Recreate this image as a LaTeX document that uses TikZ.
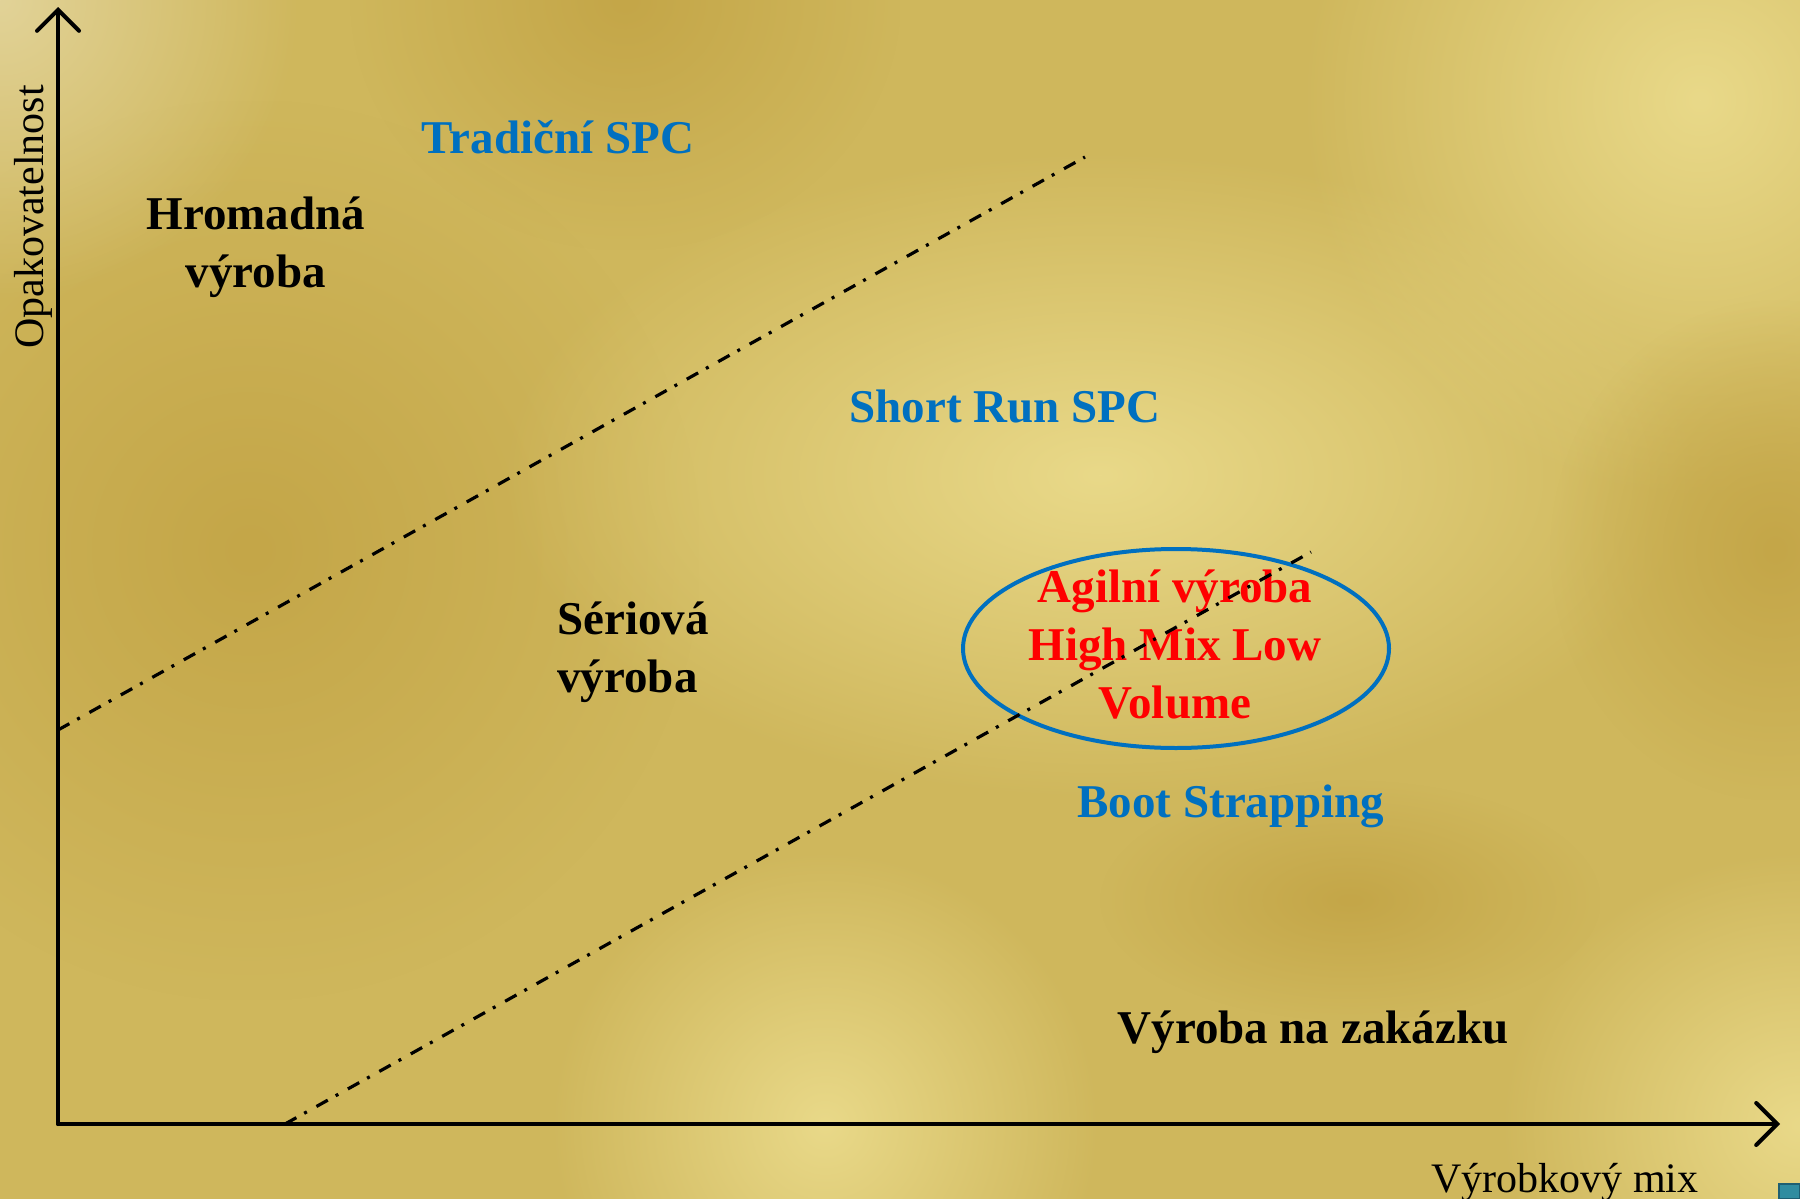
\documentclass[tikz,border=0pt]{standalone}
\usepackage{fontspec}
\setmainfont{Liberation Serif}
\usetikzlibrary{arrows.meta,fadings,shapes.geometric}
\tikzfading[name=blobfade, inner color=transparent!0, outer color=transparent!100]
\definecolor{goldbase}{RGB}{207,183,92}
\definecolor{goldlight}{RGB}{233,217,137}
\definecolor{golddark}{RGB}{196,166,72}
\definecolor{goldcorner}{RGB}{226,211,152}
\definecolor{spcblue}{RGB}{0,112,192}
\definecolor{agred}{RGB}{255,0,0}
\definecolor{iconteal}{RGB}{48,140,160}
\definecolor{icondark}{RGB}{30,95,115}
\begin{document}
\begin{tikzpicture}[x=0.5pt,y=-0.5pt,
  axisline/.style={line width=2pt, line cap=round, -{Straight Barb[length=10.5pt,width=21pt,line cap=round]}},
  dashdotline/.style={line width=1.6pt, dash pattern=on 6.5pt off 4.5pt on 1.5pt off 5.5pt},
  biglabel/.style={font=\fontsize{23.5}{29}\selectfont\bfseries, inner sep=0pt},
  bluelabel/.style={biglabel, text=spcblue},
  blacklabel/.style={biglabel, text=black},
  redlabel/.style={biglabel, text=agred, align=center},
  axislabel/.style={inner sep=0pt, text=black, font=\fontsize{21}{25}\selectfont},
  blob/.style={fill=#1, path fading=blobfade}
]
% background
\useasboundingbox (0,0) rectangle (1800,1199);
\fill[goldbase] (0,0) rectangle (1800,1199);
\fill[blob=golddark] (-200,100) rectangle (700,1000);
\fill[blob=golddark] (350,-250) rectangle (900,250);
\fill[blob=goldlight] (500,150) rectangle (1700,800);
\fill[blob=goldlight] (1300,-300) rectangle (2100,500);
\fill[blob=goldlight] (550,850) rectangle (1100,1400);
\fill[blob=goldlight] (1500,850) rectangle (2100,1400);
\fill[blob=golddark] (1550,300) rectangle (2000,800);
\fill[blob=golddark] (1100,780) rectangle (1600,1020);
\fill[blob=goldcorner] (-300,-300) rectangle (300,300);

% axes
\coordinate (O) at (58,1124);
\coordinate (ytop) at (58,7);
\coordinate (xend) at (1780,1124);
\draw[axisline] (O) -- (ytop);
\draw[axisline] (O) -- (xend);

% axis labels
\node[axislabel, rotate=90, anchor=base] (ylab) at (43,217) {Opakovatelnost};
\node[axislabel, anchor=base] (xlab) at (1565,1192) {Výrobkový mix};

% region labels
\node[bluelabel, anchor=base] (trad) at (558,153) {Tradiční SPC};
\node[blacklabel, align=center, anchor=base] (hrom) at (256,287) {Hromadná\\výroba};
\node[bluelabel, anchor=base] (short) at (1005,422) {Short Run SPC};
\node[blacklabel, align=left, anchor=base west] (seri) at (557,692) {Sériová\\výroba};
\node[draw=spcblue, line width=2pt, ellipse, minimum width=213pt, minimum height=99.5pt, inner sep=0pt] (agile) at (1176,648.5) {};
\node[redlabel, anchor=base] (agtext) at (1175,718) {Agilní výroba\\High Mix Low\\Volume};
\node[bluelabel, anchor=base] (boot) at (1231,817) {Boot Strapping};
\node[blacklabel, anchor=base] (zak) at (1313,1043) {Výroba na zakázku};

% boundary lines
\coordinate (u1) at (58,730);
\coordinate (u2) at (1085,157);
\coordinate (l1) at (285,1124);
\coordinate (l2) at (1311,552);
\draw[dashdotline] (u1) -- (u2);
\draw[dashdotline] (l1) -- (l2);

% corner icon fragment
\fill[iconteal, draw=icondark, line width=1pt] (1779,1184) rectangle (1800,1199);
\end{tikzpicture}
\end{document}
